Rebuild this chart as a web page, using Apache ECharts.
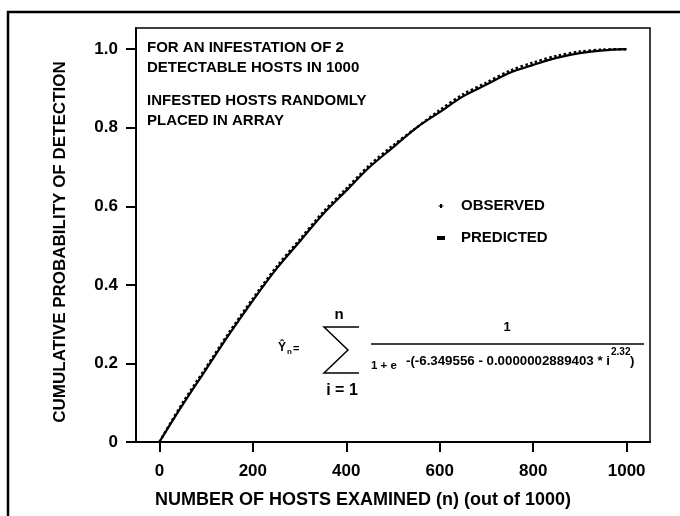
<!DOCTYPE html>
<html><head><meta charset="utf-8">
<script src="https://cdn.jsdelivr.net/npm/echarts@6/dist/echarts.min.js"></script>
<style>html,body{margin:0;padding:0;background:#fff}#c{width:680px;height:516px}</style>
</head><body><div id="c"></div>
<script>
// ---- data ----
const hostsExamined = [0, 50, 100, 150, 200, 250, 300, 350, 400, 450, 500, 550, 600, 650, 700, 750, 800, 850, 900, 950, 1000];
const observed  = [0, 0.100, 0.190, 0.280, 0.365, 0.445, 0.515, 0.585, 0.645, 0.705, 0.755, 0.800, 0.845, 0.885, 0.915, 0.945, 0.966, 0.983, 0.994, 0.999, 1.0];
const predicted = [0, 0.095, 0.185, 0.275, 0.360, 0.440, 0.510, 0.580, 0.640, 0.700, 0.750, 0.800, 0.840, 0.880, 0.910, 0.940, 0.960, 0.978, 0.990, 0.997, 1.0];
const xTickValues = [0, 200, 400, 600, 800, 1000];
const yTickValues = [0, 0.2, 0.4, 0.6, 0.8, 1.0];
const seriesNames = ['OBSERVED', 'PREDICTED'];
const xTitle = 'NUMBER OF HOSTS EXAMINED (n) (out of 1000)';
const yTitle = 'CUMULATIVE PROBABILITY OF DETECTION';
const noteLines1 = ['FOR AN INFESTATION OF 2', 'DETECTABLE HOSTS IN 1000'];
const noteLines2 = ['INFESTED HOSTS RANDOMLY', 'PLACED IN ARRAY'];

const FF = "'Liberation Sans', Arial, Helvetica, sans-serif";
const pair = (xs, ys) => xs.map((x, i) => [x, ys[i]]);

const chart = echarts.init(document.getElementById('c'), null, {renderer: 'canvas'});
const txt = (text, x, y, size, align, weight) => ({
  type: 'text', x: x, y: y, z: 10,
  style: {text: text, fontFamily: FF, fontSize: size, fontWeight: weight || 'bold', fill: '#000',
    textAlign: align || 'left', textVerticalAlign: 'middle'}
});

const yTitleEl = txt(yTitle, 60, 242, 17, 'center');
yTitleEl.rotation = Math.PI / 2;

chart.setOption({
  animation: false,
  backgroundColor: '#fff',
  grid: {left: 136, top: 28, right: 30, bottom: 74, show: true, borderColor: '#000', borderWidth: 1.5, backgroundColor: 'transparent'},
  xAxis: {
    type: 'value', min: -50, max: 1050,
    axisLine: {onZero: false, lineStyle: {color: '#000', width: 2}},
    axisTick: {customValues: xTickValues, length: 10, lineStyle: {color: '#000', width: 2}},
    axisLabel: {customValues: xTickValues, margin: 21, fontFamily: FF, fontSize: 17, fontWeight: 'bold', color: '#000',
      formatter: v => String(v)},
    splitLine: {show: false}
  },
  yAxis: {
    type: 'value', min: 0, max: 1.054,
    axisLine: {onZero: false, lineStyle: {color: '#000', width: 2}},
    axisTick: {customValues: yTickValues, length: 10, lineStyle: {color: '#000', width: 2}},
    axisLabel: {customValues: yTickValues, margin: 18, fontFamily: FF, fontSize: 17, fontWeight: 'bold', color: '#000',
      formatter: v => (v === 0 ? '0' : v.toFixed(1))},
    splitLine: {show: false}
  },
  legend: {
    orient: 'vertical', left: 432, top: 192, itemWidth: 8, itemHeight: 4, itemGap: 14,
    textStyle: {fontFamily: FF, fontSize: 15, fontWeight: 'bold', color: '#000', padding: [0, 0, 0, 11], lineHeight: 18},
    data: [
      {name: seriesNames[0], icon: 'path://M0,4 L10,4 L10,6 L0,6 Z M3,1 L7,1 L7,9 L3,9 Z'},
      {name: seriesNames[1], icon: 'rect'}
    ]
  },
  series: [
    {name: seriesNames[1], type: 'line', data: pair(hostsExamined, predicted), showSymbol: false, symbol: 'none',
      smooth: 0.3, color: '#000', lineStyle: {color: '#000', width: 2.2}, z: 2},
    {name: seriesNames[0], type: 'line', data: pair(hostsExamined, observed), showSymbol: false, symbol: 'none',
      smooth: 0.3, color: '#000', lineStyle: {color: '#000', width: 2.5, type: 'dotted'}, z: 3}
  ],
  graphic: [
    {type: 'rect', z: 0, shape: {x: 8, y: 12, width: 700, height: 600}, style: {fill: 'none', stroke: '#000', lineWidth: 2.5}},
    txt(noteLines1[0], 147, 48, 15),
    txt(noteLines1[1], 147, 68, 15),
    txt(noteLines2[0], 147, 101, 15),
    txt(noteLines2[1], 147, 121, 15),
    yTitleEl,
    txt(xTitle, 363, 500, 18, 'center'),
    // formula
    txt('\u0176', 278, 348, 12),
    txt('n', 287, 352, 8),
    txt('=', 293, 349, 11),
    {type: 'polyline', z: 10, shape: {points: [[359, 327], [324, 327], [348, 350], [324, 373], [359, 373]]},
      style: {fill: 'none', stroke: '#000', lineWidth: 1.5}},
    txt('n', 339, 315, 15, 'center'),
    txt('i = 1', 342, 391, 16, 'center'),
    txt('1', 507, 327, 13, 'center'),
    {type: 'line', z: 10, shape: {x1: 371, y1: 344, x2: 644, y2: 344}, style: {stroke: '#000', lineWidth: 1.5}},
    txt('1 + e', 371, 366, 11.5),
    txt('-(-6.349556 - 0.0000002889403 * i', 610, 361, 13.3, 'right'),
    txt('2.32', 611, 352, 10),
    txt(')', 630, 361, 13.3)
  ]
});
</script>
</body></html>
